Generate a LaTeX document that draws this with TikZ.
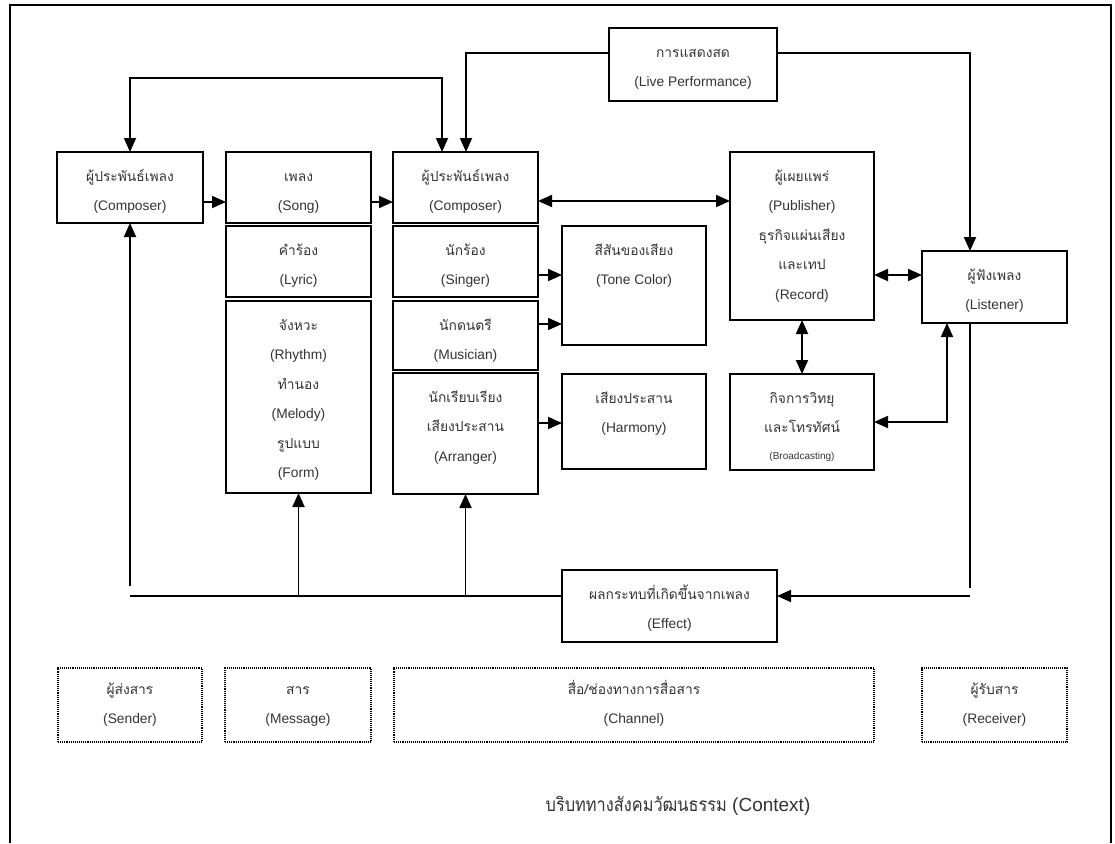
\documentclass[tikz,border=0pt]{standalone}
\usepackage{fontspec}
\setmainfont{Liberation Sans}
\newfontfamily\tf[Script=Thai]{Loma}
\newfontfamily\tfn[Script=Thai,FakeStretch=0.86]{Loma}
\usetikzlibrary{arrows.meta,fit,calc}
\newcommand\bx[8][box]{%
  \node[#1, fit={(#3,#4) (#5,#6)}] (#2) {};
  \node[txt, anchor=north] (#2-t) at ($(#2.north)+(0,#7)$) {\rule{0pt}{17pt}#8};}
\begin{document}
\begin{tikzpicture}[x=1pt,y=-1pt,
  box/.style={draw, line width=1.8pt, inner sep=0pt, outer sep=0pt},
  dbox/.style={draw, densely dotted, line width=1.1pt, inner sep=0pt, outer sep=0pt},
  txt/.style={align=center, inner sep=0pt, font=\fontsize{13.8}{29.5}\selectfont, text=black!80},
  conn/.style={line width=1.8pt},
  arr/.style={conn, -{Triangle[length=14pt,width=12pt]}},
  darr/.style={conn, {Triangle[length=14pt,width=12pt]}-{Triangle[length=14pt,width=12pt]}},
]
\useasboundingbox (0,0) rectangle (1115,843);
% frame
\draw[line width=2.6pt] (10,843) -- (10,5) -- (1111,5) -- (1111,843);

% boxes
\bx{live}{609}{28}{777}{101}{12}{{\tf การแสดงสด}\\(Live Performance)}
\bx{comp1}{57}{152}{203}{223}{12}{{\tf ผู้ประพันธ์เพลง}\\(Composer)}
\bx{song}{226}{152}{371}{223}{12}{{\tf เพลง}\\(Song)}
\bx{lyric}{226}{226}{371}{297}{12}{{\tf คำร้อง}\\(Lyric)}
\bx{rhythm}{226}{301}{371}{493}{12}{{\tf จังหวะ}\\(Rhythm)\\{\tf ทำนอง}\\(Melody)\\{\tf รูปแบบ}\\(Form)}
\bx{comp2}{393}{152}{538}{223}{12}{{\tf ผู้ประพันธ์เพลง}\\(Composer)}
\bx{singer}{393}{226}{538}{297}{12}{{\tf นักร้อง}\\(Singer)}
\bx{musician}{393}{301}{538}{370}{12}{{\tf นักดนตรี}\\(Musician)}
\bx{arranger}{393}{373}{538}{494}{12}{{\tf นักเรียบเรียง}\\{\tf เสียงประสาน}\\(Arranger)}
\bx{tone}{562}{226}{706}{345}{12}{{\tf สีสันของเสียง}\\(Tone Color)}
\bx{harmony}{562}{374}{706}{469}{12}{{\tf เสียงประสาน}\\(Harmony)}
\bx{pub}{730}{152}{874}{320}{12}{{\tf ผู้เผยแพร่}\\(Publisher)\\{\tf ธุรกิจแผ่นเสียง}\\{\tf และเทป}\\(Record)}
\bx{listener}{922}{251}{1067}{323}{12}{{\tf ผู้ฟังเพลง}\\(Listener)}
\bx{broad}{730}{374}{874}{470}{12}{{\tf กิจการวิทยุ}\\{\tf และโทรทัศน์}\\[-3pt]{\fontsize{10}{10}\selectfont (Broadcasting)}}
\bx{effect}{562}{570}{777}{642}{12}{{\tf ผลกระทบที่เกิดขึ้นจากเพลง}\\(Effect)}
\bx[dbox]{sender}{58}{668}{202}{742}{9}{{\tf ผู้ส่งสาร}\\(Sender)}
\bx[dbox]{message}{225}{668}{371}{742}{9}{{\tf สาร}\\(Message)}
\bx[dbox]{channel}{394}{668}{874}{742}{9}{{\tf สื่อ/ช่องทางการสื่อสาร}\\(Channel)}
\bx[dbox]{receiver}{922}{668}{1067}{742}{9}{{\tf ผู้รับสาร}\\(Receiver)}

\node[inner sep=0pt, font=\fontsize{19}{22}\selectfont, text=black!80] (ctx) at (678,806) {{\tfn บริบททางสังคมวัฒนธรรม} (Context)};

% helper coordinates
\coordinate (y202) at (0,202);
\coordinate (y201) at (0,201);
\coordinate (y275) at (0,275);
\coordinate (y324) at (0,324);
\coordinate (y423) at (0,423);
\coordinate (tl) at (130,78);
\coordinate (tr) at (442,78);
\coordinate (ll) at (466,53);
\coordinate (lr) at (970,53);
\coordinate (bl) at (947,422);
\coordinate (ld) at (970,588);
\coordinate (le) at (970,596);
\coordinate (fe) at (130,596);
\coordinate (fu) at (130,586);

% connectors
\draw[arr] (comp1.east |- y202) -- (song.west |- y202);
\draw[arr] (song.east |- y202) -- (comp2.west |- y202);
\draw[darr] (comp2.east |- y201) -- (pub.west |- y201);
\draw[darr] (comp1.north) -- (tl) -- (tr) -- (tr |- comp2.north);
\draw[arr] (live.west |- ll) -- (ll) -- (ll |- comp2.north);
\draw[arr] (live.east |- lr) -- (lr) -- (lr |- listener.north);
\draw[arr] (singer.east |- y275) -- (tone.west |- y275);
\draw[arr] (musician.east |- y324) -- (tone.west |- y324);
\draw[arr] (arranger.east |- y423) -- (harmony.west |- y423);
\draw[darr] (pub.east |- y275) -- (listener.west |- y275);
\draw[darr] (pub.south) -- (broad.north);
\draw[darr] (broad.east |- bl) -- (bl) -- (bl |- listener.south);
\draw[conn] (lr |- listener.south) -- (ld);
\draw[arr] (le) -- (effect.east |- le);
\draw[conn] (effect.west |- fe) -- (fe);
\draw[arr] (fu) -- (comp1.south);
\draw[arr] (rhythm.south |- fe) -- (rhythm.south);
\draw[arr] (arranger.south |- fe) -- (arranger.south);
\end{tikzpicture}
\end{document}
